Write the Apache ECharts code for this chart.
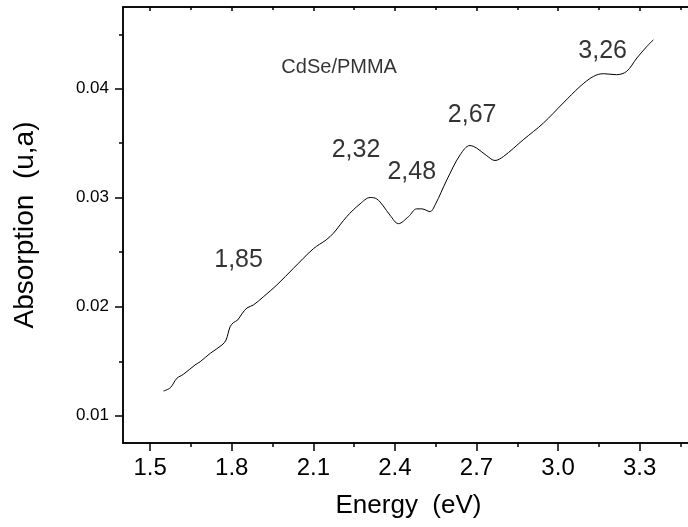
<!DOCTYPE html>
<html>
<head>
<meta charset="utf-8">
<script src="https://cdn.jsdelivr.net/npm/echarts@6/dist/echarts.min.js"></script>
<style>
  html, body { margin: 0; padding: 0; background: #fff; }
  #chart { width: 688px; height: 527px; }
</style>
</head>
<body>
<div id="chart"></div>
<script>
// Optical absorption spectrum of CdSe nanocrystals in a PMMA matrix
const energy = [
  1.549, 1.574, 1.598, 1.622, 1.665, 1.684, 1.721, 1.764, 1.779, 1.794,
  1.806, 1.822, 1.837, 1.856, 1.880, 1.917, 1.966, 2.027, 2.100, 2.147,
  2.174, 2.223, 2.272, 2.309, 2.333, 2.357, 2.382, 2.413, 2.450, 2.480,
  2.499, 2.529, 2.548, 2.591, 2.640, 2.676, 2.701, 2.738, 2.768, 2.799,
  2.872, 2.946, 3.019, 3.081, 3.130, 3.167, 3.215, 3.252, 3.290, 3.327,
  3.351
];
const absorption = [
  0.01227, 0.01257, 0.01343, 0.01380, 0.01466, 0.01496, 0.01573, 0.01649, 0.01695, 0.01817,
  0.01854, 0.01879, 0.01934, 0.01989, 0.02017, 0.02093, 0.02200, 0.02353, 0.02532, 0.02613,
  0.02675, 0.02827, 0.02944, 0.03002, 0.02990, 0.02925, 0.02840, 0.02762, 0.02827, 0.02898,
  0.02898, 0.02873, 0.02935, 0.03164, 0.03394, 0.03479, 0.03455, 0.03385, 0.03342, 0.03378,
  0.03532, 0.03685, 0.03869, 0.04021, 0.04113, 0.04138, 0.04129, 0.04159, 0.04282, 0.04389,
  0.04450
];

// Peak energies written next to the absorption features
const peakLabels = ['1,85', '2,32', '2,48', '2,67', '3,26'];
const peakLabelX = [1.825, 2.257, 2.462, 2.684, 3.164];
const peakLabelY = [0.02425, 0.0344, 0.03233, 0.03761, 0.04349];

const sampleLabel = ['CdSe/PMMA'];
const sampleLabelX = [2.195];
const sampleLabelY = [0.04197];

// Tick positions
const xMajorTicks = [1.5, 1.8, 2.1, 2.4, 2.7, 3.0, 3.3];
const xMinorTicks = [1.65, 1.95, 2.25, 2.55, 2.85, 3.15, 3.45];
const yMajorTicks = [0.01, 0.02, 0.03, 0.04];
const yMinorTicks = [0.015, 0.025, 0.035, 0.045];

const FONT = 'Liberation Sans, Arial, sans-serif';
const black = '#000';

const chart = echarts.init(document.getElementById('chart'), null, { renderer: 'canvas' });

const xRange = { min: 1.4, max: 3.5 };
const yRange = { min: 0.0075, max: 0.0475 };
const lineAx = { show: true, lineStyle: { color: black, width: 1.5 } };

function xAxisDef(position, ticks, len, inside, labels, extra) {
  return Object.assign({
    type: 'value', position: position, min: xRange.min, max: xRange.max,
    axisLine: lineAx,
    axisTick: { show: true, customValues: ticks, length: len, inside: inside, lineStyle: { color: black, width: 1.5 } },
    axisLabel: labels,
    splitLine: { show: false }, minorTick: { show: false }
  }, extra || {});
}
function yAxisDef(position, ticks, len, inside, labels, extra) {
  return Object.assign({
    type: 'value', position: position, min: yRange.min, max: yRange.max,
    axisLine: lineAx,
    axisTick: { show: true, customValues: ticks, length: len, inside: inside, lineStyle: { color: black, width: 1.5 } },
    axisLabel: labels,
    splitLine: { show: false }, minorTick: { show: false }
  }, extra || {});
}

const option = {
  backgroundColor: '#fff',
  animation: false,
  grid: { left: 123, right: -6, top: 7, bottom: 84, containLabel: false, outerBoundsMode: 'none' },
  xAxis: [
    xAxisDef('bottom', xMajorTicks, 8, false, {
      show: true, customValues: xMajorTicks, formatter: v => v.toFixed(1),
      color: black, fontFamily: FONT, fontSize: 24, margin: 13
    }, {
      name: 'Energy  (eV)', nameLocation: 'middle', nameGap: 50,
      nameTextStyle: { color: black, fontFamily: FONT, fontSize: 26 }
    }),
    xAxisDef('bottom', xMinorTicks, 4, false, { show: false }),
    xAxisDef('top', xMajorTicks, 4, true, { show: false }),
    xAxisDef('top', xMinorTicks, 3, true, { show: false })
  ],
  yAxis: [
    yAxisDef('left', yMajorTicks, 8, false, {
      show: true, customValues: yMajorTicks, formatter: v => v.toFixed(2),
      color: black, fontFamily: FONT, fontSize: 17, margin: 14
    }, {
      name: 'Absorption  (u,a)', nameLocation: 'middle', nameGap: 84,
      nameTextStyle: { color: black, fontFamily: FONT, fontSize: 28 }
    }),
    yAxisDef('left', yMinorTicks, 4, false, { show: false }),
    yAxisDef('right', yMajorTicks, 4, true, { show: false }),
    yAxisDef('right', yMinorTicks, 3, true, { show: false })
  ],
  series: [
    {
      type: 'line',
      xAxisIndex: 0, yAxisIndex: 0,
      data: energy.map((e, i) => [e, absorption[i]]),
      showSymbol: false,
      smooth: 0.35,
      lineStyle: { color: black, width: 1 },
      silent: true
    },
    {
      type: 'scatter',
      xAxisIndex: 0, yAxisIndex: 0,
      symbolSize: 0,
      silent: true,
      data: peakLabels.map((t, i) => ({ name: t, value: [peakLabelX[i], peakLabelY[i]] })),
      label: {
        show: true, position: 'inside', formatter: p => p.name,
        color: black, fontFamily: FONT, fontSize: 25
      }
    },
    {
      type: 'scatter',
      xAxisIndex: 0, yAxisIndex: 0,
      symbolSize: 0,
      silent: true,
      data: sampleLabel.map((t, i) => ({ name: t, value: [sampleLabelX[i], sampleLabelY[i]] })),
      label: {
        show: true, position: 'inside', formatter: p => p.name,
        color: black, fontFamily: FONT, fontSize: 20
      }
    }
  ]
};

chart.setOption(option);
</script>
</body>
</html>
